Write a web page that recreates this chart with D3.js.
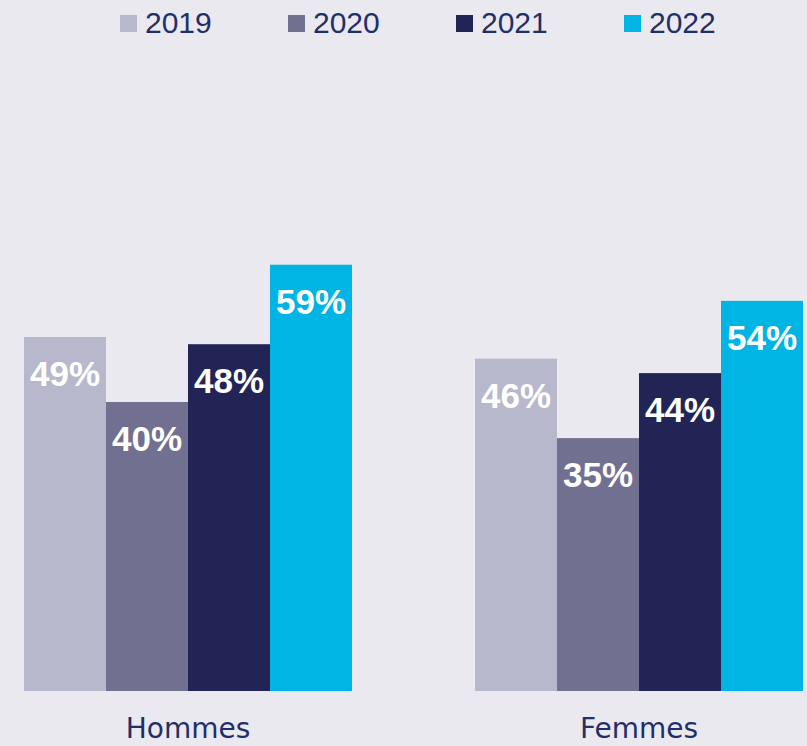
<!DOCTYPE html>
<html>
<head>
<meta charset="utf-8">
<script src="https://cdn.jsdelivr.net/npm/d3@7"></script>
<style>
  html, body { margin: 0; padding: 0; background: #EAE9EF; }
  svg { display: block; }
</style>
</head>
<body>
<svg id="chart" width="807" height="746"></svg>
<script>
// Share of respondents by sex and year (%)
const categories = ["Hommes", "Femmes"];
const years = ["2019", "2020", "2021", "2022"];
const hommes = [49, 40, 48, 59];
const femmes = [46, 35, 44, 54];
const colors = ["#B8B8CC", "#717090", "#232456", "#00B5E3"];

const values = { Hommes: hommes, Femmes: femmes };
const rows = categories.map(c => ({
  cat: c,
  bars: years.map((y, i) => ({ year: y, value: values[c][i], color: colors[i] }))
}));

const svg = d3.select("#chart");
const navy = "#1E2F6A";

const x0 = d3.scaleBand().domain(categories).range([24, 803])
  .paddingInner(0.2727).paddingOuter(0);
const x1 = d3.scaleBand().domain(years).range([0, x0.bandwidth()]).padding(0);
const y = d3.scaleLinear().domain([0, 60]).range([691, 257.5]);

// Bars and value labels
const groups = svg.selectAll("g.cat").data(rows).join("g")
  .attr("class", "cat")
  .attr("transform", d => `translate(${x0(d.cat)},0)`);

groups.selectAll("rect").data(d => d.bars).join("rect")
  .attr("x", d => x1(d.year))
  .attr("y", d => y(d.value))
  .attr("width", x1.bandwidth())
  .attr("height", d => y(0) - y(d.value))
  .attr("fill", d => d.color);

groups.selectAll("text.val").data(d => d.bars).join("text")
  .attr("class", "val")
  .attr("x", d => x1(d.year) + x1.bandwidth() / 2)
  .attr("y", d => y(d.value) + 49)
  .attr("text-anchor", "middle")
  .attr("fill", "#FFFFFF")
  .attr("font-family", "'Century Gothic', 'Liberation Sans', Arial, sans-serif")
  .attr("font-weight", "bold")
  .attr("font-size", 35)
  .text(d => d.value + "%");

// Category axis labels
svg.selectAll("text.cat").data(categories).join("text")
  .attr("class", "cat")
  .attr("x", d => x0(d) + x0.bandwidth() / 2)
  .attr("y", 738)
  .attr("text-anchor", "middle")
  .attr("fill", navy)
  .attr("font-family", "'Century Gothic', 'DejaVu Sans', sans-serif")
  .attr("font-size", 28)
  .text(d => d);

// Legend
const legend = svg.selectAll("g.leg").data(years).join("g")
  .attr("class", "leg")
  .attr("transform", (d, i) => `translate(${120 + i * 168},0)`);

legend.append("rect")
  .attr("x", 0).attr("y", 15)
  .attr("width", 17).attr("height", 17)
  .attr("fill", (d, i) => colors[i]);

legend.append("text")
  .attr("x", 25).attr("y", 33)
  .attr("fill", navy)
  .attr("font-family", "'Century Gothic', 'Liberation Sans', Arial, sans-serif")
  .attr("font-size", 30)
  .text(d => d);
</script>
</body>
</html>
